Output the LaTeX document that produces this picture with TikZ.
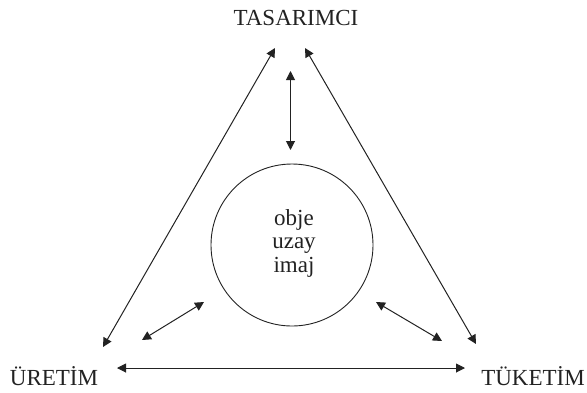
\documentclass[tikz,border=0pt]{standalone}
\usepackage{fontspec}
\setmainfont{Liberation Serif}
\usetikzlibrary{arrows.meta}
\definecolor{ink}{HTML}{222222}
\tikzset{
  lbl/.style={font=\fontsize{23}{23}\selectfont, text=ink, inner sep=0pt, anchor=base},
  dbl/.style={draw=ink, line width=1pt, {Triangle[length=9pt,width=9pt]}-{Triangle[length=9pt,width=9pt]}},
  ring/.style={circle, draw=ink, line width=0.9pt, minimum size=162pt, inner sep=0pt}
}
\begin{document}
\begin{tikzpicture}[x=1pt,y=-1pt]
\useasboundingbox (0,0) rectangle (587,392);
\node[lbl] (tas) at (296,25.5) {TASARIMCI};
\node[lbl] (ure) at (54,385) {ÜRETİM};
\node[lbl] (tuk) at (533,385) {TÜKETİM};
\node[ring] (c) at (292,245) {};
\node[lbl] (o1) at (294,225) {obje};
\node[lbl] (o2) at (294,248.5) {uzay};
\node[lbl] (o3) at (294,272) {imaj};
\coordinate (t1) at (275,48);
\coordinate (u1) at (103,347);
\coordinate (t2) at (305,48);
\coordinate (k1) at (476,344);
\coordinate (t3) at (290.5,71);
\coordinate (c1) at (290.5,150);
\coordinate (u2) at (142,340);
\coordinate (c2) at (204,302);
\coordinate (c3) at (376,302);
\coordinate (k2) at (442,341);
\coordinate (u3) at (117,368);
\coordinate (k3) at (465,368);
\draw[dbl] (t1) -- (u1);
\draw[dbl] (t2) -- (k1);
\draw[dbl] (t3) -- (c1);
\draw[dbl] (u2) -- (c2);
\draw[dbl] (c3) -- (k2);
\draw[dbl] (u3) -- (k3);
\end{tikzpicture}
\end{document}
